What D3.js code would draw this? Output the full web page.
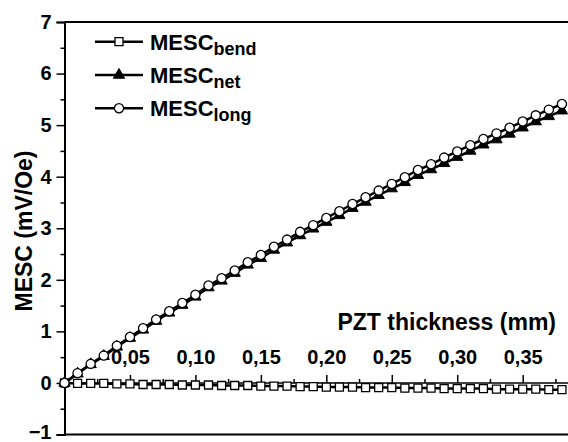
<!DOCTYPE html>
<html>
<head>
<meta charset="utf-8">
<script src="https://cdn.jsdelivr.net/npm/d3@7"></script>
<style>
  body { margin: 0; background: #fff; }
  text { font-family: "Liberation Sans", Arial, sans-serif; font-weight: bold; fill: #000; }
</style>
</head>
<body>
<div id="chart"></div>
<script>
// PZT thickness (mm)
var thickness = [0.00, 0.01, 0.02, 0.03, 0.04, 0.05, 0.06, 0.07, 0.08, 0.09,
                 0.10, 0.11, 0.12, 0.13, 0.14, 0.15, 0.16, 0.17, 0.18, 0.19,
                 0.20, 0.21, 0.22, 0.23, 0.24, 0.25, 0.26, 0.27, 0.28, 0.29,
                 0.30, 0.31, 0.32, 0.33, 0.34, 0.35, 0.36, 0.37, 0.38];

var mescBend = [0, -0.01, -0.01, -0.01, -0.02, -0.02, -0.03, -0.03, -0.03, -0.04,
                -0.04, -0.04, -0.05, -0.05, -0.05, -0.06, -0.06, -0.06, -0.07, -0.07,
                -0.08, -0.08, -0.08, -0.09, -0.09, -0.09, -0.10, -0.10, -0.10, -0.11,
                -0.11, -0.11, -0.11, -0.12, -0.12, -0.12, -0.12, -0.13, -0.13];

var mescNet = [0, 0.18, 0.36, 0.52, 0.70, 0.87, 1.03, 1.20, 1.36, 1.51,
               1.67, 1.85, 1.98, 2.13, 2.29, 2.42, 2.58, 2.72, 2.86, 2.99,
               3.12, 3.25, 3.39, 3.51, 3.64, 3.77, 3.89, 4.03, 4.14, 4.26,
               4.38, 4.50, 4.62, 4.72, 4.83, 4.95, 5.07, 5.17, 5.28];

var mescLong = [0, 0.19, 0.37, 0.53, 0.72, 0.89, 1.06, 1.23, 1.39, 1.55,
                1.71, 1.89, 2.03, 2.18, 2.34, 2.48, 2.64, 2.78, 2.93, 3.06,
                3.20, 3.33, 3.47, 3.60, 3.73, 3.86, 3.99, 4.13, 4.24, 4.37,
                4.49, 4.61, 4.73, 4.84, 4.95, 5.07, 5.19, 5.30, 5.41];

var xTicks = [0.05, 0.10, 0.15, 0.20, 0.25, 0.30, 0.35];
var yTicks = [-1, 0, 1, 2, 3, 4, 5, 6, 7];

var width = 568, height = 442;

var svg = d3.select("#chart")
  .append("svg")
    .attr("width", width)
    .attr("height", height);

// scales
var x = d3.scaleLinear().domain([0, 0.385]).range([64.5, 568.5]);
var y = d3.scaleLinear().domain([-1, 7]).range([434.5, 22]);

// frame: top and bottom border, left axis
svg.append("line")
  .attr("x1", x(0)).attr("x2", width)
  .attr("y1", y(7)).attr("y2", y(7))
  .attr("stroke", "#000").attr("stroke-width", 2);
svg.append("line")
  .attr("x1", x(0)).attr("x2", width)
  .attr("y1", y(-1)).attr("y2", y(-1))
  .attr("stroke", "#000").attr("stroke-width", 2);

// y axis, ticks pointing out
var yAxis = svg.append("g")
  .attr("transform", "translate(" + x(0) + ",0)")
  .call(d3.axisLeft(y).tickValues(yTicks).tickSize(8).tickPadding(5).tickFormat(d3.format("d")));
svg.append("g")
  .attr("transform", "translate(" + x(0) + ",0)")
  .call(d3.axisLeft(y).tickValues(d3.range(-0.5, 7, 1)).tickSize(4).tickFormat(""))
  .select(".domain").remove();
yAxis.selectAll("text").style("font-size", "20px");
// keep the lowest label inside the picture
yAxis.selectAll(".tick text").filter(function(d) { return d === -1; }).attr("dy", "0.2em");

// x axis sits on y = 0, ticks and labels point up
var xAxis = svg.append("g")
  .attr("transform", "translate(0," + y(0) + ")")
  .call(d3.axisTop(x).tickValues(xTicks).tickSize(8).tickPadding(11).tickSizeOuter(0)
    .tickFormat(function(d) { return d3.format(".2f")(d).replace(".", ","); }));
svg.append("g")
  .attr("transform", "translate(0," + y(0) + ")")
  .call(d3.axisTop(x).tickValues([0.025, 0.075, 0.125, 0.175, 0.225, 0.275, 0.325, 0.375]).tickSize(4).tickFormat(""))
  .select(".domain").remove();
xAxis.select(".domain").attr("d", "M" + x(0) + ",0H" + width);
xAxis.selectAll("text").style("font-size", "20px");

svg.selectAll(".domain, .tick line").attr("stroke", "#000").attr("stroke-width", 1.5);
yAxis.select(".domain").attr("stroke-width", 2);

// axis titles
svg.append("text")
  .attr("x", 556).attr("y", 330)
  .attr("text-anchor", "end")
  .style("font-size", "23px")
  .text("PZT thickness (mm)");

svg.append("text")
  .attr("transform", "translate(32,231) rotate(-90)")
  .attr("text-anchor", "middle")
  .style("font-size", "23px")
  .text("MESC (mV/Oe)");

// series
var series = [
  {name: "bend", values: mescBend, marker: "square"},
  {name: "net", values: mescNet, marker: "triangle"},
  {name: "long", values: mescLong, marker: "circle"}
];

var line = d3.line()
  .x(function(d) { return x(d[0]); })
  .y(function(d) { return y(d[1]); });

function drawMarker(sel, type) {
  if (type === "square") {
    sel.append("path")
      .attr("d", d3.symbol(d3.symbolSquare, 64)())
      .attr("fill", "#fff").attr("stroke", "#000").attr("stroke-width", 1.3);
  } else if (type === "triangle") {
    sel.append("path")
      .attr("d", d3.symbol(d3.symbolTriangle, 55)())
      .attr("fill", "#000").attr("stroke", "#000").attr("stroke-width", 1);
  } else {
    sel.append("circle")
      .attr("r", 4.6)
      .attr("fill", "#fff").attr("stroke", "#000").attr("stroke-width", 1.3);
  }
}

series.forEach(function(s) {
  var pts = thickness.map(function(t, i) { return [t, s.values[i]]; });
  svg.append("path")
    .datum(pts)
    .attr("fill", "none")
    .attr("stroke", "#000")
    .attr("stroke-width", 2.5)
    .attr("d", line);
  svg.append("g")
    .selectAll("g")
    .data(pts)
    .enter().append("g")
      .attr("transform", function(d) { return "translate(" + x(d[0]) + "," + y(d[1]) + ")"; })
      .each(function() { drawMarker(d3.select(this), s.marker); });
});

// legend
var legend = svg.append("g");
series.forEach(function(s, i) {
  var row = legend.append("g").attr("transform", "translate(0," + (41.7 + i * 33.3) + ")");
  row.append("line")
    .attr("x1", 95).attr("x2", 143)
    .attr("stroke", "#000").attr("stroke-width", 2.5);
  drawMarker(row.append("g").attr("transform", "translate(119,0)"), s.marker);
  var t = row.append("text")
    .attr("x", 150).attr("y", 8)
    .style("font-size", "22px");
  t.append("tspan").text("MESC");
  t.append("tspan").attr("dy", 5).style("font-size", "18px").text(s.name);
});
</script>
</body>
</html>
